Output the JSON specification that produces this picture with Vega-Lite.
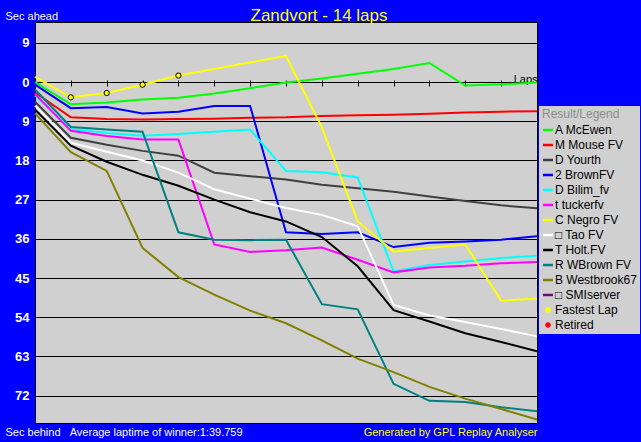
{
  "$schema": "https://vega.github.io/schema/vega-lite/v6.json",
  "width": 502,
  "height": 401,
  "autosize": {"type": "none"},
  "padding": {"left": 35, "top": 22, "right": 104, "bottom": 19},
  "background": "#0000FF",
  "config": {
    "font": "Liberation Sans",
    "view": {"fill": "#D0D0D0", "stroke": "#000000", "strokeWidth": 1}
  },
  "title": {
    "text": "Zandvort - 14 laps",
    "color": "#FFFF00",
    "fontSize": 17,
    "fontWeight": "normal",
    "font": "Liberation Sans",
    "anchor": "middle",
    "baseline": "alphabetic",
    "offset": 0,
    "dx": 33,
    "dy": 28
  },
  "datasets": {
    "laps": [
      {"series": "A McEwen", "lap": 0, "gap": 0}, {"series": "A McEwen", "lap": 1, "gap": 5.1}, {"series": "A McEwen", "lap": 2, "gap": 4.7}, {"series": "A McEwen", "lap": 3, "gap": 4.0}, {"series": "A McEwen", "lap": 4, "gap": 3.6}, {"series": "A McEwen", "lap": 5, "gap": 2.6}, {"series": "A McEwen", "lap": 6, "gap": 1.4}, {"series": "A McEwen", "lap": 7, "gap": 0.1}, {"series": "A McEwen", "lap": 8, "gap": -0.8}, {"series": "A McEwen", "lap": 9, "gap": -1.9}, {"series": "A McEwen", "lap": 10, "gap": -3.0}, {"series": "A McEwen", "lap": 11, "gap": -4.4}, {"series": "A McEwen", "lap": 12, "gap": 0.8}, {"series": "A McEwen", "lap": 13, "gap": 0.5}, {"series": "A McEwen", "lap": 14, "gap": 0.1},
      {"series": "M Mouse FV", "lap": 0, "gap": 2.4}, {"series": "M Mouse FV", "lap": 1, "gap": 8.1}, {"series": "M Mouse FV", "lap": 2, "gap": 8.5}, {"series": "M Mouse FV", "lap": 3, "gap": 8.6}, {"series": "M Mouse FV", "lap": 4, "gap": 8.5}, {"series": "M Mouse FV", "lap": 5, "gap": 8.4}, {"series": "M Mouse FV", "lap": 6, "gap": 8.2}, {"series": "M Mouse FV", "lap": 7, "gap": 8.1}, {"series": "M Mouse FV", "lap": 8, "gap": 7.8}, {"series": "M Mouse FV", "lap": 9, "gap": 7.6}, {"series": "M Mouse FV", "lap": 10, "gap": 7.5}, {"series": "M Mouse FV", "lap": 11, "gap": 7.3}, {"series": "M Mouse FV", "lap": 12, "gap": 7.0}, {"series": "M Mouse FV", "lap": 13, "gap": 6.8}, {"series": "M Mouse FV", "lap": 14, "gap": 6.7},
      {"series": "D Yourth", "lap": 0, "gap": 4.5}, {"series": "D Yourth", "lap": 1, "gap": 12.8}, {"series": "D Yourth", "lap": 2, "gap": 14.4}, {"series": "D Yourth", "lap": 3, "gap": 15.8}, {"series": "D Yourth", "lap": 4, "gap": 16.9}, {"series": "D Yourth", "lap": 5, "gap": 20.8}, {"series": "D Yourth", "lap": 6, "gap": 21.6}, {"series": "D Yourth", "lap": 7, "gap": 22.4}, {"series": "D Yourth", "lap": 8, "gap": 23.6}, {"series": "D Yourth", "lap": 9, "gap": 24.4}, {"series": "D Yourth", "lap": 10, "gap": 25.2}, {"series": "D Yourth", "lap": 11, "gap": 26.3}, {"series": "D Yourth", "lap": 12, "gap": 27.3}, {"series": "D Yourth", "lap": 13, "gap": 28.3}, {"series": "D Yourth", "lap": 14, "gap": 29.0},
      {"series": "2 BrownFV", "lap": 0, "gap": 0.6}, {"series": "2 BrownFV", "lap": 1, "gap": 6.0}, {"series": "2 BrownFV", "lap": 2, "gap": 5.7}, {"series": "2 BrownFV", "lap": 3, "gap": 7.2}, {"series": "2 BrownFV", "lap": 4, "gap": 6.8}, {"series": "2 BrownFV", "lap": 5, "gap": 5.5}, {"series": "2 BrownFV", "lap": 6, "gap": 5.5}, {"series": "2 BrownFV", "lap": 7, "gap": 34.5}, {"series": "2 BrownFV", "lap": 8, "gap": 34.9}, {"series": "2 BrownFV", "lap": 9, "gap": 34.5}, {"series": "2 BrownFV", "lap": 10, "gap": 37.9}, {"series": "2 BrownFV", "lap": 11, "gap": 36.9}, {"series": "2 BrownFV", "lap": 12, "gap": 36.6}, {"series": "2 BrownFV", "lap": 13, "gap": 36.2}, {"series": "2 BrownFV", "lap": 14, "gap": 35.4},
      {"series": "D Bilim_fv", "lap": 0, "gap": 3.1}, {"series": "D Bilim_fv", "lap": 1, "gap": 10.8}, {"series": "D Bilim_fv", "lap": 2, "gap": 11.7}, {"series": "D Bilim_fv", "lap": 3, "gap": 12.3}, {"series": "D Bilim_fv", "lap": 4, "gap": 11.9}, {"series": "D Bilim_fv", "lap": 5, "gap": 11.4}, {"series": "D Bilim_fv", "lap": 6, "gap": 10.9}, {"series": "D Bilim_fv", "lap": 7, "gap": 20.4}, {"series": "D Bilim_fv", "lap": 8, "gap": 20.7}, {"series": "D Bilim_fv", "lap": 9, "gap": 21.9}, {"series": "D Bilim_fv", "lap": 10, "gap": 43.5}, {"series": "D Bilim_fv", "lap": 11, "gap": 42.0}, {"series": "D Bilim_fv", "lap": 12, "gap": 41.2}, {"series": "D Bilim_fv", "lap": 13, "gap": 40.4}, {"series": "D Bilim_fv", "lap": 14, "gap": 39.9},
      {"series": "t tuckerfv", "lap": 0, "gap": 2.7}, {"series": "t tuckerfv", "lap": 1, "gap": 11.2}, {"series": "t tuckerfv", "lap": 2, "gap": 12.4}, {"series": "t tuckerfv", "lap": 3, "gap": 13.2}, {"series": "t tuckerfv", "lap": 4, "gap": 13.2}, {"series": "t tuckerfv", "lap": 5, "gap": 37.3}, {"series": "t tuckerfv", "lap": 6, "gap": 39.0}, {"series": "t tuckerfv", "lap": 7, "gap": 38.6}, {"series": "t tuckerfv", "lap": 8, "gap": 38.0}, {"series": "t tuckerfv", "lap": 9, "gap": 40.8}, {"series": "t tuckerfv", "lap": 10, "gap": 43.7}, {"series": "t tuckerfv", "lap": 11, "gap": 42.6}, {"series": "t tuckerfv", "lap": 12, "gap": 42.2}, {"series": "t tuckerfv", "lap": 13, "gap": 41.6}, {"series": "t tuckerfv", "lap": 14, "gap": 41.3},
      {"series": "C Negro FV", "lap": 0, "gap": -1.2}, {"series": "C Negro FV", "lap": 1, "gap": 3.5}, {"series": "C Negro FV", "lap": 2, "gap": 2.5}, {"series": "C Negro FV", "lap": 3, "gap": 0.6}, {"series": "C Negro FV", "lap": 4, "gap": -1.5}, {"series": "C Negro FV", "lap": 5, "gap": -3.0}, {"series": "C Negro FV", "lap": 6, "gap": -4.5}, {"series": "C Negro FV", "lap": 7, "gap": -6.0}, {"series": "C Negro FV", "lap": 8, "gap": 10.4}, {"series": "C Negro FV", "lap": 9, "gap": 32.0}, {"series": "C Negro FV", "lap": 10, "gap": 38.9}, {"series": "C Negro FV", "lap": 11, "gap": 38.1}, {"series": "C Negro FV", "lap": 12, "gap": 37.3}, {"series": "C Negro FV", "lap": 13, "gap": 50.2}, {"series": "C Negro FV", "lap": 14, "gap": 49.7},
      {"series": "□ Tao FV", "lap": 0, "gap": 5.4}, {"series": "□ Tao FV", "lap": 1, "gap": 13.9}, {"series": "□ Tao FV", "lap": 2, "gap": 16.0}, {"series": "□ Tao FV", "lap": 3, "gap": 18.0}, {"series": "□ Tao FV", "lap": 4, "gap": 20.8}, {"series": "□ Tao FV", "lap": 5, "gap": 24.6}, {"series": "□ Tao FV", "lap": 6, "gap": 26.8}, {"series": "□ Tao FV", "lap": 7, "gap": 28.9}, {"series": "□ Tao FV", "lap": 8, "gap": 30.5}, {"series": "□ Tao FV", "lap": 9, "gap": 33.1}, {"series": "□ Tao FV", "lap": 10, "gap": 51.2}, {"series": "□ Tao FV", "lap": 11, "gap": 53.6}, {"series": "□ Tao FV", "lap": 12, "gap": 55.1}, {"series": "□ Tao FV", "lap": 13, "gap": 56.7}, {"series": "□ Tao FV", "lap": 14, "gap": 58.4},
      {"series": "T Holt.FV", "lap": 0, "gap": 6.3}, {"series": "T Holt.FV", "lap": 1, "gap": 14.6}, {"series": "T Holt.FV", "lap": 2, "gap": 18.3}, {"series": "T Holt.FV", "lap": 3, "gap": 21.3}, {"series": "T Holt.FV", "lap": 4, "gap": 23.8}, {"series": "T Holt.FV", "lap": 5, "gap": 27.0}, {"series": "T Holt.FV", "lap": 6, "gap": 29.9}, {"series": "T Holt.FV", "lap": 7, "gap": 32.0}, {"series": "T Holt.FV", "lap": 8, "gap": 35.6}, {"series": "T Holt.FV", "lap": 9, "gap": 42.3}, {"series": "T Holt.FV", "lap": 10, "gap": 52.4}, {"series": "T Holt.FV", "lap": 11, "gap": 55.0}, {"series": "T Holt.FV", "lap": 12, "gap": 57.7}, {"series": "T Holt.FV", "lap": 13, "gap": 59.7}, {"series": "T Holt.FV", "lap": 14, "gap": 61.8},
      {"series": "R WBrown FV", "lap": 0, "gap": 1.7}, {"series": "R WBrown FV", "lap": 1, "gap": 10.3}, {"series": "R WBrown FV", "lap": 2, "gap": 10.9}, {"series": "R WBrown FV", "lap": 3, "gap": 11.4}, {"series": "R WBrown FV", "lap": 4, "gap": 34.5}, {"series": "R WBrown FV", "lap": 5, "gap": 36.2}, {"series": "R WBrown FV", "lap": 6, "gap": 36.3}, {"series": "R WBrown FV", "lap": 7, "gap": 36.2}, {"series": "R WBrown FV", "lap": 8, "gap": 51.0}, {"series": "R WBrown FV", "lap": 9, "gap": 52.2}, {"series": "R WBrown FV", "lap": 10, "gap": 69.3}, {"series": "R WBrown FV", "lap": 11, "gap": 73.2}, {"series": "R WBrown FV", "lap": 12, "gap": 73.5}, {"series": "R WBrown FV", "lap": 13, "gap": 74.7}, {"series": "R WBrown FV", "lap": 14, "gap": 75.6},
      {"series": "B Westbrook67", "lap": 0, "gap": 7.2}, {"series": "B Westbrook67", "lap": 1, "gap": 16.1}, {"series": "B Westbrook67", "lap": 2, "gap": 20.4}, {"series": "B Westbrook67", "lap": 3, "gap": 38.1}, {"series": "B Westbrook67", "lap": 4, "gap": 44.8}, {"series": "B Westbrook67", "lap": 5, "gap": 48.8}, {"series": "B Westbrook67", "lap": 6, "gap": 52.5}, {"series": "B Westbrook67", "lap": 7, "gap": 55.4}, {"series": "B Westbrook67", "lap": 8, "gap": 59.3}, {"series": "B Westbrook67", "lap": 9, "gap": 63.5}, {"series": "B Westbrook67", "lap": 10, "gap": 66.6}, {"series": "B Westbrook67", "lap": 11, "gap": 70.0}, {"series": "B Westbrook67", "lap": 12, "gap": 72.7}, {"series": "B Westbrook67", "lap": 13, "gap": 75.1}, {"series": "B Westbrook67", "lap": 14, "gap": 77.5}
    ],
    "fastest": [
      {"series": "Fastest Lap", "lap": 1, "gap": 3.5},
      {"series": "Fastest Lap", "lap": 2, "gap": 2.5},
      {"series": "Fastest Lap", "lap": 3, "gap": 0.6},
      {"series": "Fastest Lap", "lap": 4, "gap": -1.5}
    ]
  },
  "layer": [
    {
      "data": {"name": "laps"},
      "mark": {"type": "line", "strokeWidth": 2},
      "encoding": {
        "x": {
          "field": "lap",
          "type": "quantitative",
          "scale": {"domain": [0, 14], "nice": false, "zero": false},
          "axis": {
            "orient": "top",
            "offset": -64,
            "values": [1, 2, 3, 4, 5, 6, 7, 8, 9, 10, 11, 12, 13],
            "labels": false,
            "domain": false,
            "grid": false,
            "ticks": true,
            "tickSize": 6,
            "tickWidth": 1,
            "tickColor": "#000000",
            "title": "Laps",
            "titleX": 502,
            "titleY": -4,
            "titleAlign": "right",
            "titleBaseline": "alphabetic",
            "titleFontSize": 11,
            "titleFontWeight": "normal",
            "titleColor": "#000000"
          }
        },
        "y": {
          "field": "gap",
          "type": "quantitative",
          "scale": {"domain": [-13.8, 78.3], "reverse": true, "nice": false, "zero": false},
          "axis": {
            "orient": "left",
            "values": [-9, 0, 9, 18, 27, 36, 45, 54, 63, 72],
            "labelExpr": "abs(datum.value) + ''",
            "labelColor": "#FFFFFF",
            "labelFontSize": 13,
            "labelFontWeight": "bold",
            "labelPadding": 6,
            "ticks": false,
            "tickSize": 0,
            "domain": false,
            "grid": true,
            "gridColor": "#000000",
            "gridWidth": 1,
            "gridOpacity": 1,
            "title": "Sec ahead",
            "titleX": -30,
            "titleY": -3,
            "titleAngle": 0,
            "titleAlign": "left",
            "titleBaseline": "alphabetic",
            "titleColor": "#FFFFFF",
            "titleFontSize": 11,
            "titleFontWeight": "normal"
          }
        },
        "color": {
          "field": "series",
          "type": "nominal",
          "scale": {
            "domain": ["A McEwen", "M Mouse FV", "D Yourth", "2 BrownFV", "D Bilim_fv", "t tuckerfv", "C Negro FV", "□ Tao FV", "T Holt.FV", "R WBrown FV", "B Westbrook67", "□ SMIserver", "Fastest Lap", "Retired"],
            "range": ["#00FF00", "#FF0000", "#404040", "#0000FF", "#00FFFF", "#FF00FF", "#FFFF00", "#FFFFFF", "#000000", "#008080", "#808000", "#800080", "#FFFF00", "#FF0000"]
          },
          "legend": {
            "orient": "none",
            "legendX": 504,
            "legendY": 84,
            "title": "Result/Legend",
            "titleColor": "#8C8C8C",
            "titleFontSize": 12,
            "titleFontWeight": "normal",
            "titleBaseline": "top",
            "titlePadding": 3,
            "fillColor": "#D0D0D0",
            "padding": 3,
            "labelFontSize": 12,
            "labelColor": "#000000",
            "labelOffset": 1,
            "labelLimit": 100,
            "symbolType": "stroke",
            "symbolSize": 100,
            "symbolStrokeWidth": 2.5,
            "rowPadding": 3,
            "encode": {
              "symbols": {
                "update": {
                  "shape": {"signal": "datum.value === 'Fastest Lap' || datum.value === 'Retired' ? 'circle' : 'stroke'"},
                  "size": {"signal": "datum.value === 'Fastest Lap' || datum.value === 'Retired' ? 22 : 100"},
                  "fill": {"signal": "datum.value === 'Fastest Lap' ? '#FFFF00' : datum.value === 'Retired' ? '#FF0000' : 'transparent'"},
                  "stroke": {"signal": "datum.value === 'Fastest Lap' || datum.value === 'Retired' ? '#000000' : scale('color', datum.value)"},
                  "strokeWidth": {"signal": "datum.value === 'Fastest Lap' || datum.value === 'Retired' ? 1 : 2.5"},
                  "opacity": {"value": 1}
                }
              }
            }
          }
        }
      }
    },
    {
      "data": {"name": "fastest"},
      "mark": {"type": "point", "filled": true, "stroke": "#000000", "strokeWidth": 1, "size": 28, "opacity": 1},
      "encoding": {
        "x": {
          "field": "lap",
          "type": "quantitative",
          "axis": {
            "orient": "bottom",
            "labels": false,
            "ticks": false,
            "domain": false,
            "grid": false,
            "title": "Sec behind\u00a0\u00a0\u00a0Average laptime of winner:1:39.759",
            "titleX": -30,
            "titleY": 12,
            "titleAlign": "left",
            "titleBaseline": "alphabetic",
            "titleColor": "#FFFFFF",
            "titleFontSize": 11,
            "titleFontWeight": "normal"
          }
        },
        "y": {
          "field": "gap",
          "type": "quantitative",
          "axis": {
            "orient": "right",
            "labels": false,
            "ticks": false,
            "domain": false,
            "grid": false,
            "title": "Generated by GPL Replay Analyser",
            "titleX": 0,
            "titleY": 413,
            "titleAngle": 0,
            "titleAlign": "right",
            "titleBaseline": "alphabetic",
            "titleColor": "#FFFF00",
            "titleFontSize": 11,
            "titleFontWeight": "normal"
          }
        },
        "color": {"field": "series", "type": "nominal"}
      }
    }
  ],
  "resolve": {"axis": {"x": "independent", "y": "independent"}}
}
